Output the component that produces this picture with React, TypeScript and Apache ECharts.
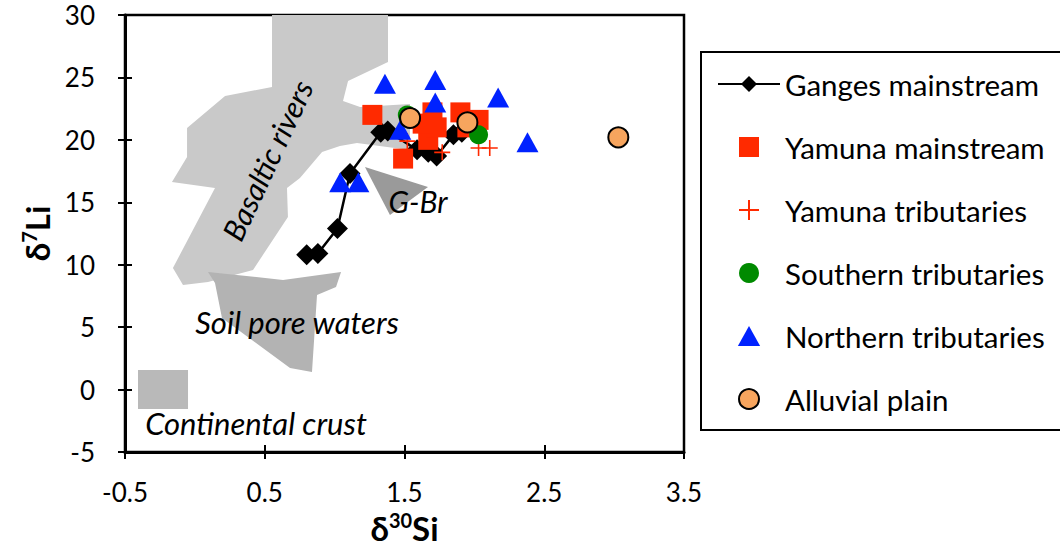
import React, { useEffect, useRef } from "react";
import * as echarts from "echarts";

const FONT = 'Lato, "Open Sans", "DejaVu Sans", sans-serif';

// Axis ticks
const xTickValues = [-0.5, 0.5, 1.5, 2.5, 3.5];
const yMin = -5;
const yMax = 30;
const yInterval = 5;

// Series names (legend order)
const seriesNames = [
  "Ganges mainstream",
  "Yamuna mainstream",
  "Yamuna tributaries",
  "Southern tributaries",
  "Northern tributaries",
  "Alluvial plain",
];

// Data [δ30Si, δ7Li]
const gangesMainstream = [
  [0.8, 10.8],
  [0.88, 10.9],
  [1.02, 12.9],
  [1.11, 17.3],
  [1.33, 20.6],
  [1.38, 20.7],
  [1.59, 19.2],
  [1.67, 19.0],
  [1.73, 18.7],
  [1.85, 20.4],
  [1.91, 20.6],
  [1.91, 22.1],
];
const yamunaMainstream = [
  [1.27, 22.0],
  [1.49, 18.5],
  [1.67, 20.0],
  [1.7, 22.2],
  [1.73, 21.0],
  [1.63, 21.3],
  [1.9, 22.2],
  [2.03, 21.6],
  [1.95, 21.0],
];
const yamunaTributaries = [
  [1.77, 19.0],
  [2.03, 19.35],
  [2.11, 19.35],
  [1.52, 19.9],
];
const southernTributaries = [
  [1.52, 22.0],
  [2.03, 20.4],
];
const northernTributaries = [
  [1.36, 24.5],
  [1.72, 24.8],
  [1.72, 23.0],
  [2.17, 23.4],
  [2.38, 19.8],
  [1.47, 20.8],
  [1.04, 16.6],
  [1.17, 16.6],
];
const alluvialPlain = [
  [1.54, 21.75],
  [1.95, 21.4],
  [3.03, 20.2],
];

// Shaded fields (polygon vertices in data units)
const basalticRivers = [
  [0.552, 30.0],
  [1.382, 30.0],
  [1.382, 26.24],
  [1.096, 24.71],
  [1.06, 23.11],
  [1.182, 22.63],
  [1.539, 22.87],
  [1.539, 19.19],
  [1.16, 19.75],
  [1.038, 19.51],
  [0.91, 19.03],
  [0.752, 16.95],
  [0.659, 16.14],
  [0.666, 13.82],
  [0.416, 9.58],
  [0.094, 8.62],
  [-0.085, 8.38],
  [-0.157, 9.74],
  [0.144, 16.14],
  [-0.164, 16.62],
  [-0.056, 18.63],
  [-0.056, 20.95],
  [0.216, 23.51],
  [0.552, 24.23],
];
const soilPoreWaters = [
  [0.094, 9.42],
  [0.631, 8.78],
  [1.046, 9.42],
  [1.01, 8.22],
  [0.874, 7.57],
  [0.838, 1.41],
  [0.681, 1.73],
  [0.194, 5.73],
  [0.144, 8.54],
];
const continentalCrust = [
  [-0.407, 1.57],
  [-0.049, 1.57],
  [-0.049, -1.56],
  [-0.407, -1.56],
];
const gangesBrahmaputra = [
  [1.217, 17.83],
  [1.668, 16.22],
  [1.396, 13.98],
];

const regions = [
  { points: basalticRivers, color: "#c9c9c9" },
  { points: soilPoreWaters, color: "#b3b3b3" },
  { points: continentalCrust, color: "#b9b9b9" },
  { points: gangesBrahmaputra, color: "#9a9a9a" },
];

const plusPath = "path://M7.2,0H8.8V7.2H16V8.8H8.8V16H7.2V8.8H0V7.2H7.2Z";

function buildOption() {
  const tickStyle = { color: "#000", width: 2 };
  const labelStyle = { color: "#000", fontFamily: FONT, fontSize: 26 };
  const titleRich = {
    a: { fontFamily: FONT, fontWeight: "bold", fontSize: 33, color: "#000", lineHeight: 36 },
    s: { fontFamily: FONT, fontWeight: "bold", fontSize: 20, color: "#000", lineHeight: 36, verticalAlign: "top" },
  };
  const italic = { fontFamily: FONT, fontStyle: "italic", fill: "#000", align: "center", verticalAlign: "middle" };
  return {
    animation: false,
    backgroundColor: "#fff",
    grid: {
      left: 125,
      top: 15,
      width: 559,
      height: 437,
      show: true,
      borderColor: "#000",
      borderWidth: 2.5,
      backgroundColor: "transparent",
    },
    xAxis: [
      {
        type: "value",
        min: -0.5,
        max: 3.5,
        position: "bottom",
        axisLine: { onZero: false, lineStyle: { color: "#000", width: 3 } },
        axisTick: { show: true, length: 7, customValues: xTickValues, lineStyle: tickStyle },
        axisLabel: { ...labelStyle, margin: 27, customValues: xTickValues },
        splitLine: { show: false },
        name: "{a|δ}{s|30}{a|Si}",
        nameLocation: "middle",
        nameGap: 52,
        nameTextStyle: { rich: titleRich },
      },
      {
        type: "value",
        min: -0.5,
        max: 3.5,
        position: "bottom",
        axisLine: { show: false, onZero: false },
        axisTick: { show: true, inside: true, length: 7, customValues: xTickValues, lineStyle: tickStyle },
        axisLabel: { show: false },
        splitLine: { show: false },
      },
    ],
    yAxis: [
      {
        type: "value",
        min: yMin,
        max: yMax,
        interval: yInterval,
        position: "left",
        axisLine: { onZero: false, lineStyle: { color: "#000", width: 3 } },
        axisTick: { show: true, length: 7, lineStyle: tickStyle },
        axisLabel: { ...labelStyle, margin: 30 },
        splitLine: { show: false },
        name: "{a|δ}{s|7}{a|Li}",
        nameLocation: "middle",
        nameGap: 66,
        nameRotate: 90,
        nameTextStyle: { rich: titleRich },
      },
      {
        type: "value",
        min: yMin,
        max: yMax,
        interval: yInterval,
        position: "left",
        axisLine: { show: false, onZero: false },
        axisTick: { show: true, inside: true, length: 7, lineStyle: tickStyle },
        axisLabel: { show: false },
        splitLine: { show: false },
      },
    ],
    legend: {
      orient: "vertical",
      left: 717,
      top: 68,
      padding: 0,
      itemWidth: 62,
      itemHeight: 20,
      itemGap: 31,
      selectedMode: false,
      textStyle: { fontFamily: FONT, fontSize: 29.5, color: "#000", lineHeight: 32 },
      data: [
        { name: seriesNames[0] },
        { name: seriesNames[1], icon: "path://M0,0H10V10H0Z" },
        { name: seriesNames[2], icon: plusPath },
        { name: seriesNames[3], icon: "circle" },
        { name: seriesNames[4], icon: "path://M5,0L10,9L0,9Z" },
        { name: seriesNames[5], icon: "circle" },
      ],
    },
    graphic: [
      {
        type: "rect",
        z: 0,
        shape: { x: 701, y: 52, width: 400, height: 378 },
        style: { fill: "transparent", stroke: "#000", lineWidth: 2 },
      },
      {
        type: "text",
        z: 50,
        x: 267,
        y: 160,
        rotation: (65 * Math.PI) / 180,
        style: { ...italic, text: "Basaltic rivers", fontSize: 30 },
      },
      {
        type: "text",
        z: 50,
        x: 297,
        y: 322,
        style: { ...italic, text: "Soil pore waters", fontSize: 31 },
      },
      {
        type: "text",
        z: 50,
        x: 256,
        y: 423,
        style: { ...italic, text: "Continental crust", fontSize: 31 },
      },
      {
        type: "text",
        z: 50,
        x: 418,
        y: 201,
        style: { ...italic, text: "G-Br", fontSize: 30 },
      },
    ],
    series: [
      {
        type: "custom",
        name: "fields",
        silent: true,
        z: 1,
        data: regions.map((r) => r.points[0]),
        renderItem: (params: any, api: any) => {
          const region = regions[params.dataIndex];
          return {
            type: "polygon",
            shape: { points: region.points.map((p) => api.coord(p)) },
            style: { fill: region.color },
          };
        },
      },
      {
        type: "line",
        name: seriesNames[0],
        z: 3,
        data: gangesMainstream,
        symbol: "diamond",
        symbolSize: 21,
        itemStyle: { color: "#000" },
        lineStyle: { color: "#000", width: 2.5 },
      },
      {
        type: "scatter",
        name: seriesNames[1],
        z: 4,
        data: yamunaMainstream,
        symbol: "rect",
        symbolSize: 20,
        itemStyle: { color: "#ff2a00", opacity: 1 },
      },
      {
        type: "scatter",
        name: seriesNames[2],
        z: 5,
        data: yamunaTributaries,
        symbol: plusPath,
        symbolSize: 16,
        itemStyle: { color: "#ff2a00", opacity: 1 },
      },
      {
        type: "scatter",
        name: seriesNames[3],
        z: 6,
        data: southernTributaries,
        symbol: "circle",
        symbolSize: 19,
        itemStyle: { color: "#008a00", opacity: 1 },
      },
      {
        type: "scatter",
        name: seriesNames[4],
        z: 7,
        data: northernTributaries,
        symbol: "triangle",
        symbolSize: [22, 20],
        itemStyle: { color: "#0022ff", opacity: 1 },
      },
      {
        type: "scatter",
        name: seriesNames[5],
        z: 8,
        data: alluvialPlain,
        symbol: "circle",
        symbolSize: 20,
        itemStyle: { color: "#f7a55e", borderColor: "#000", borderWidth: 2, opacity: 1 },
      },
    ],
  };
}

export default function App() {
  const ref = useRef<HTMLDivElement>(null);
  useEffect(() => {
    const chart = echarts.init(ref.current as HTMLDivElement, null, { renderer: "svg" });
    chart.setOption(buildOption() as any);
    return () => chart.dispose();
  }, []);
  return (
    <div
      ref={ref}
      style={{ position: "absolute", left: 0, top: 0, width: 1060, height: 550 }}
    />
  );
}
